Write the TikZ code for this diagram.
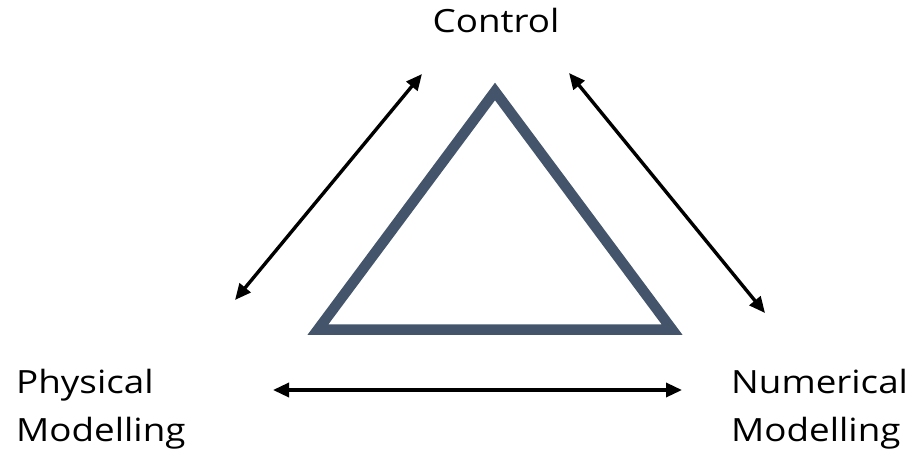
\documentclass[tikz,border=0pt]{standalone}
\usepackage{fontspec}
\setmainfont{Open Sans}
\usetikzlibrary{arrows.meta}
\definecolor{slate}{HTML}{44546A}
\newcommand{\wide}[1]{\scalebox{1.15}[1]{#1}}
\tikzset{
  lbl/.style={inner sep=0pt, font=\fontsize{32}{48}\selectfont, align=left},
  link/.style={line width=3.4pt, {Triangle[length=16pt,width=14pt]}-{Triangle[length=16pt,width=14pt]}},
  tri/.style={draw=slate, line width=10.5pt, line join=miter, miter limit=10}
}
\begin{document}
\begin{tikzpicture}[x=1pt,y=-1pt]
\useasboundingbox (0,0) rectangle (912,450);
\coordinate (apex) at (495,91.5);
\coordinate (bl) at (318,329.5);
\coordinate (br) at (672,329.5);
\draw[tri] (apex) -- (bl) -- (br) -- cycle;
\node[lbl, anchor=base] (ctrl) at (496,32) {\wide{Control}};
\node[lbl, anchor=base west] (phys) at (16,441) {\wide{Physical}\\\wide{Modelling}};
\node[lbl, anchor=base west] (num) at (731,441) {\wide{Numerical}\\\wide{Modelling}};
\coordinate (a1) at (235,300);
\coordinate (a2) at (422,74);
\coordinate (b1) at (569,73);
\coordinate (b2) at (765,313);
\coordinate (c1) at (273,390);
\coordinate (c2) at (682,390);
\draw[link] (a1) -- (a2);
\draw[link] (b1) -- (b2);
\draw[link] (c1) -- (c2);
\end{tikzpicture}
\end{document}
